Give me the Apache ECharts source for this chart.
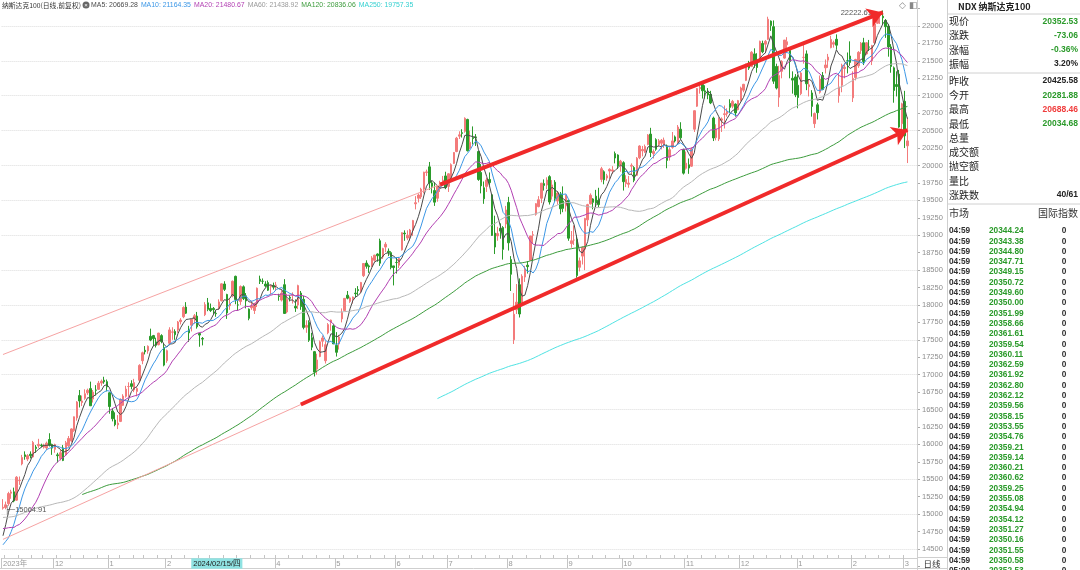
<!DOCTYPE html>
<html><head><meta charset="utf-8">
<script src="https://cdn.jsdelivr.net/npm/echarts@6/dist/echarts.min.js"></script>
<style>html,body{margin:0;padding:0;background:#fff;}#c{width:1080px;height:570px;}</style>
</head><body><div id="c"></div>
<script>
// ---------------- DATA ----------------
// trading days shown (category axis)
const monthDays = [
 ['2023/11',[3,6,7,8,9,10,13,14,15,16,17,20,21,22,24,27,28,29,30]],
 ['2023/12',[1,4,5,6,7,8,11,12,13,14,15,18,19,20,21,22,26,27,28,29]],
 ['2024/01',[2,3,4,5,8,9,10,11,12,16,17,18,19,22,23,24,25,26,29,30,31]],
 ['2024/02',[1,2,5,6,7,8,9,12,13,14,15,16,20,21,22,23,26,27,28,29]],
 ['2024/03',[1,4,5,6,7,8,11,12,13,14,15,18,19,20,21,22,25,26,27,28]],
 ['2024/04',[1,2,3,4,5,8,9,10,11,12,15,16,17,18,19,22,23,24,25,26,29,30]],
 ['2024/05',[1,2,3,6,7,8,9,10,13,14,15,16,17,20,21,22,23,24,28,29,30,31]],
 ['2024/06',[3,4,5,6,7,10,11,12,13,14,17,18,20,21,24,25,26,27,28]],
 ['2024/07',[1,2,3,5,8,9,10,11,12,15,16,17,18,19,22,23,24,25,26,29,30,31]],
 ['2024/08',[1,2,5,6,7,8,9,12,13,14,15,16,19,20,21,22,23,26,27,28,29,30]],
 ['2024/09',[3,4,5,6,9,10,11,12,13,16,17,18,19,20,23,24,25,26,27,30]],
 ['2024/10',[1,2,3,4,7,8,9,10,11,14,15,16,17,18,21,22,23,24,25,28,29,30,31]],
 ['2024/11',[1,4,5,6,7,8,11,12,13,14,15,18,19,20,21,22,25,26,27,29]],
 ['2024/12',[2,3,4,5,6,9,10,11,12,13,16,17,18,19,20,23,24,26,27,30,31]],
 ['2025/01',[2,3,6,7,8,10,13,14,15,16,17,21,22,23,24,27,28,29,30,31]],
 ['2025/02',[3,4,5,6,7,10,11,12,13,14,18,19,20,21,24,25,26,27,28]],
 ['2025/03',[3,4]]
];

// closes before the visible range (only feed the moving averages)
const historyCloses = [
 14940,14907,15179,
 15204,15238,15039,14944,14953,15044,15238,15466,15565,15699,15867,15842,15462,15277,15292,15450,15391,15393,15667,15757,
 15735,15383,15363,15274,15404,15258,15071,15083,14980,15205,15034,14866,14694,14694,14943,14894,15145,14811,14941,15052,15350,15462,15501,
 15491,15526,15376,15277,15290,15462,15292,15354,15474,15203,15221,15185,14966,14694,14701,14768,14546,14571,14695,14715,
 14838,14566,14789,14746,14977,15059,15116,15241,15186,14995,15159,15110,14958,14824,14598,14646,14790,14430,14109,14180,14336,14410,
 14665,14939
];

// daily candles: [open, close, low, high]
const candles = [
 // 2023/11
 [15085,15099,15064.91,15215],[15095,15133,15070,15180],[15150,15295,15120,15320],[15300,15319,15220,15350],[15320,15188,15170,15380],
 [15200,15530,15190,15545],[15480,15482,15420,15540],[15720,15812,15700,15850],[15850,15826,15780,15900],[15790,15839,15760,15860],
 [15860,15839,15800,15900],[15820,16027,15810,16050],[15960,15942,15880,15990],[15980,16001,15950,16080],[15990,15983,15960,16010],
 [15960,15983,15940,16010],[15950,16018,15920,16040],[16070,15987,15970,16160],[16000,15947,15850,16010],
 // 2023/12
 [15930,15997,15880,16010],[15850,15838,15740,15880],[15800,15880,15770,15920],[15950,15770,15760,15990],[15850,16023,15840,16050],
 [15980,16085,15960,16120],[16050,16222,16030,16230],[16200,16396,16180,16400],[16380,16608,16340,16620],[16700,16623,16530,16780],
 [16600,16623,16550,16700],[16660,16727,16640,16790],[16740,16777,16710,16800],[16800,16554,16550,16900],[16650,16750,16600,16780],
 [16780,16777,16700,16850],[16790,16878,16780,16910],[16880,16906,16840,16930],[16920,16898,16870,16970],[16900,16826,16760,16930],
 // 2024/01
 [16740,16543,16440,16750],[16480,16368,16330,16520],[16350,16283,16260,16460],[16280,16305,16220,16420],[16330,16645,16320,16660],
 [16560,16693,16550,16720],[16690,16793,16670,16840],[16830,16830,16680,16890],[16870,16832,16790,16920],[16780,16886,16750,16940],
 [16760,16801,16690,16820],[16920,17133,16890,17150],[17200,17314,17150,17330],[17350,17329,17290,17410],[17340,17407,17300,17420],
 [17550,17496,17480,17660],[17560,17516,17410,17570],[17470,17421,17390,17530],[17430,17596,17420,17600],[17560,17476,17450,17580],
 [17390,17137,17120,17450],
 // 2024/02
 [17200,17344,17170,17360],[17450,17642,17420,17680],[17610,17613,17500,17680],[17620,17573,17500,17650],[17640,17755,17600,17770],
 [17760,17783,17720,17810],[17830,17963,17810,17980],[17970,17882,17870,18040],[17640,17600,17470,17700],[17710,17792,17620,17800],
 [17800,17845,17730,17870],[17840,17686,17660,17900],[17590,17568,17400,17600],[17520,17510,17420,17540],[17860,18004,17840,18040],
 [18030,17937,17910,18100],[17950,17919,17900,18020],[17950,17932,17860,17970],[17880,17874,17830,17930],[17950,18043,17930,18080],
 // 2024/03
 [18060,18302,18050,18310],[18300,18224,18200,18340],[18150,17885,17800,18160],[17990,18018,17930,18090],[18130,18339,18110,18350],
 [18410,18077,18010,18420],[18000,17999,17920,18060],[18050,18264,18000,18280],[18260,18091,18070,18280],[18130,18057,17950,18170],
 [17940,17808,17780,17950],[17960,17985,17930,18060],[17920,18021,17870,18030],[18020,18240,17970,18250],[18370,18339,18300,18420],
 [18340,18339,18300,18380],[18300,18271,18250,18340],[18320,18211,18200,18350],[18260,18280,18150,18290],[18280,18255,18220,18320],
 // 2024/04
 [18280,18285,18200,18330],[18130,18122,18060,18160],[18070,18168,18050,18210],[18290,17878,17870,18370],[17900,18078,17880,18160],
 [18110,18096,18050,18140],[18140,18140,18020,18180],[17980,17956,17900,18080],[18000,18277,17940,18290],[18170,17976,17930,18200],
 [18080,17678,17650,18130],[17680,17707,17600,17780],[17750,17494,17470,17780],[17530,17394,17350,17600],[17330,17037,16974,17340],
 [17080,17211,17000,17300],[17260,17471,17250,17490],[17480,17526,17400,17560],[17200,17430,17160,17480],[17600,17718,17580,17740],
 [17750,17783,17630,17790],[17700,17441,17440,17730],
 // 2024/05
 [17420,17321,17260,17610],[17440,17541,17360,17570],[17800,17891,17750,17950],[17920,18094,17910,18100],[18140,18097,18080,18200],
 [18050,18101,18030,18120],[18090,18113,18020,18120],[18170,18161,18110,18240],[18220,18205,18140,18270],[18200,18322,18170,18330],
 [18420,18594,18400,18600],[18600,18554,18520,18640],[18560,18546,18460,18580],[18550,18674,18540,18700],[18640,18714,18620,18720],
 [18730,18705,18620,18740],[18920,18598,18560,18950],[18690,18809,18660,18820],[18830,18870,18760,18900],[18770,18752,18700,18810],
 [18750,18538,18510,18770],[18560,18536,18280,18560],
 // 2024/06
 [18610,18608,18450,18680],[18570,18667,18530,18690],[18790,19036,18780,19040],[19030,19020,18920,19070],[18960,19000,18930,19070],
 [18980,19074,18920,19090],[19070,19210,18990,19220],[19450,19466,19370,19560],[19530,19576,19470,19600],[19550,19659,19520,19680],
 [19660,19903,19600,19910],[19900,19908,19850,19940],[19980,19752,19650,20050],[19750,19701,19600,19780],[19640,19474,19420,19760],
 [19530,19700,19480,19710],[19670,19752,19620,19780],[19760,19789,19710,19850],[19850,19683,19660,19910],
 // 2024/07
 [19700,19880,19620,19890],[19820,20011,19800,20030],[20030,20186,20020,20190],[20200,20392,20190,20410],[20420,20439,20380,20490],
 [20470,20460,20400,20520],[20490,20676,20470,20690],[20660,20212,20200,20670],[20250,20332,20230,20500],[20400,20386,20300,20560],
 [20410,20401,20280,20450],[20200,19799,19780,20210],[19900,19707,19600,20020],[19680,19522,19450,19770],[19700,19791,19620,19820],
 [19800,19754,19710,19900],[19580,18997,18990,19590],[19030,18830,18730,19280],[18990,19023,18920,19120],[19100,19059,18950,19170],
 [19110,18797,18650,19130],[19160,19362,19100,19420],
 // 2024/08
 [19470,18891,18780,19550],[18650,18440,18200,18700],[17500,17867,17440,18170],[17930,18040,17870,18300],[18290,17870,17820,18380],
 [18030,18412,17990,18440],[18400,18513,18330,18560],[18570,18549,18450,18630],[18640,18989,18630,18990],[19000,19007,18880,19060],
 [19300,19452,19280,19460],[19410,19508,19400,19560],[19530,19746,19460,19750],[19740,19714,19640,19800],[19720,19791,19660,19830],
 [19840,19476,19440,19860],[19560,19721,19510,19790],[19760,19527,19480,19790],[19490,19605,19440,19630],[19590,19379,19300,19620],
 [19490,19385,19330,19700],[19420,19575,19340,19580],
 // 2024/09
 [19500,18957,18920,19510],[18880,18920,18820,19060],[18930,18930,18860,19140],[18940,18421,18390,19000],[18540,18632,18480,18680],
 [18700,18827,18580,18840],[18800,19239,18500,19250],[19220,19438,19130,19450],[19450,19574,19440,19600],[19520,19471,19370,19530],
 [19560,19463,19400,19650],[19500,19439,19400,19680],[19800,19953,19760,19980],[19910,19794,19730,19930],[19820,19852,19780,19880],
 [19920,19944,19810,19960],[19920,19936,19880,19990],[20170,20107,20030,20200],[20150,19992,19950,20160],[20010,20061,19910,20080],
 // 2024/10
 [20040,19767,19640,20060],[19740,19799,19690,19860],[19730,19748,19680,19850],[19990,20003,19870,20030],[19970,19787,19760,19990],
 [19860,20104,19850,20120],[20110,20279,20090,20290],[20210,20229,20130,20280],[20190,20272,20180,20300],[20300,20437,20290,20450],
 [20450,20186,20120,20540],[20170,20200,20100,20230],[20370,20232,20210,20390],[20300,20353,20270,20380],[20320,20361,20230,20380],
 [20290,20363,20250,20400],[20280,20073,19960,20300],[20120,20226,20070,20260],[20260,20352,20240,20480],[20410,20351,20330,20430],
 [20330,20551,20310,20580],[20520,20396,20380,20620],[20230,19890,19870,20240],
 // 2024/11
 [19960,20033,19940,20200],[20010,19963,19880,20100],[19990,20233,19980,20260],[20520,20785,20480,20790],[20850,21102,20840,21110],
 [21100,21118,21030,21150],[21160,21071,20960,21170],[21070,21050,20960,21150],[21050,21011,20950,21110],[21020,20897,20880,21070],
 [20680,20394,20350,20700],[20400,20520,20360,20590],[20380,20666,20350,20690],[20650,20668,20480,20690],[20730,20741,20530,20860],
 [20740,20776,20700,20820],[20890,20833,20750,20950],[20850,20919,20820,20940],[20880,20754,20700,20890],[20800,20930,20790,20940],
 // 2024/12
 [20930,21111,20920,21130],[21080,21164,21050,21170],[21220,21451,21210,21460],[21450,21396,21370,21500],[21420,21623,21410,21640],
 [21600,21474,21400,21680],[21500,21405,21330,21610],[21510,21780,21500,21790],[21750,21630,21610,21790],[21740,21780,21610,21800],
 [21810,22097,21800,22133],[22070,22006,21930,22080],[21990,21209,21170,22080],[21420,21110,21090,21460],[20980,21289,20840,21430],
 [21350,21492,21250,21510],[21540,21798,21530,21800],[21730,21774,21660,21840],[21650,21491,21250,21660],[21250,21224,21030,21350],
 [21270,21012,20980,21310],
 // 2025/01
 [21150,20975,20820,21300],[21030,21326,21010,21340],[21550,21550,21460,21760],[21600,21171,21080,21650],[21130,21157,20990,21240],
 [21040,20847,20700,21080],[20600,20744,20538,20760],[20870,20757,20660,20900],[21050,21238,21030,21290],[21290,21090,21080,21340],
 [21400,21441,21320,21520],[21510,21554,21400,21600],[21690,21808,21680,21860],[21740,21761,21690,21790],[21810,21725,21660,21880],
 [21000,21127,20900,21310],[21150,21437,21050,21460],[21390,21409,21250,21470],[21500,21499,21320,21620],[21570,21478,21430,21780],
 // 2025/02
 [20970,21246,20910,21350],[21260,21520,21220,21530],[21430,21622,21400,21640],[21650,21752,21600,21770],[21760,21491,21440,21830],
 [21600,21759,21590,21770],[21700,21697,21640,21800],[21500,21719,21440,21730],[21760,22030,21740,22040],[22040,22115,22030,22150],
 [22170,22175,22030,22200],[22140,22118,22020,22222.61],[22080,21990,21830,22100],[22000,21700,21560,22030],[21700,21420,21330,21740],
 [21400,21075,20900,21420],[21160,21132,20990,21350],[21310,20551,20540,21370],[20600,20884,20400,20900],
 // 2025/03
 [20920,20425.58,20250,21070],[20281.88,20352.53,20034.68,20688.46]
];

const maPeriods = [5, 10, 20, 60, 120, 250];
const maNames = ['MA5', 'MA10', 'MA20', 'MA60', 'MA120', 'MA250'];
const maLegendValues = ['20669.28', '21164.35', '21480.67', '21438.92', '20836.06', '19757.35'];
const yTicks = { min: 14250, max: 22250, step: 250, firstLabel: 14500, lastLabel: 22000 };

// hand-drawn trend lines: [startDate, startValue, endDate, endValue, kind]
const trendLines = [
 ['2023/11/03', 17289, '2024/06/26', 19726, 'thin'],
 ['2024/06/26', 19726, '2025/02/19', 22194, 'thick'],
 ['2023/11/03', 14638, '2024/04/12', 16572, 'thin'],
 ['2024/04/12', 16572, '2025/03/04', 20509, 'thick']
];
const crosshairDate = '2024/02/15';

// right panel
const panelTitle = 'NDX 纳斯达克100';
const quoteLabels = ['现价', '涨跌', '涨幅', '振幅'];
const quoteValues = ['20352.53', '-73.06', '-0.36%', '3.20%'];
const quoteTones = ['down', 'down', 'down', 'flat'];
const statLabels = ['昨收', '今开', '最高', '最低', '总量', '成交额', '抛空额', '量比', '涨跌数'];
const statValues = ['20425.58', '20281.88', '20688.46', '20034.68', '', '', '', '', '40/61'];
const statTones = ['flat', 'down', 'up', 'down', 'flat', 'flat', 'flat', 'flat', 'flat'];
const tickHeader = ['市场', '国际指数'];
const tickTimes = ['04:59','04:59','04:59','04:59','04:59','04:59','04:59','04:59','04:59','04:59','04:59','04:59','04:59','04:59','04:59','04:59','04:59',
 '04:59','04:59','04:59','04:59','04:59','04:59','04:59','04:59','04:59','04:59','04:59','04:59','04:59','04:59','04:59','04:59','05:00'];
const tickPrices = ['20344.24','20343.38','20344.80','20347.71','20349.15','20350.72','20349.60','20350.00','20351.99','20358.66','20361.61',
 '20359.54','20360.11','20362.59','20361.92','20362.80','20362.12','20359.56','20358.15','20353.55','20354.76','20359.21','20359.14',
 '20360.21','20360.62','20359.25','20355.08','20354.94','20354.12','20351.27','20350.16','20351.55','20350.58','20352.53'];
const tickVols = ['0','0','0','0','0','0','0','0','0','0','0','0','0','0','0','0','0','0','0','0','0','0','0','0','0','0','0','0','0','0','0','0','0','0'];

// ---------------- BUILD ----------------
const dates = [];
monthDays.forEach(([ym, days]) => days.forEach(d => dates.push(ym + '/' + String(d).padStart(2, '0'))));
if (dates.length !== candles.length) console.error('length mismatch', dates.length, candles.length);
const categories = dates.concat(['', ' ', '  ']);

const allCloses = historyCloses.concat(candles.map(c => c[1]));
function movingAverage(n) {
  const out = [];
  for (let i = historyCloses.length; i < allCloses.length; i++) {
    if (i + 1 < n) { out.push(null); continue; }
    let s = 0;
    for (let k = i - n + 1; k <= i; k++) s += allCloses[k];
    out.push(+(s / n).toFixed(2));
  }
  return out;
}

const toDate = s => new Date(s.replace(/\//g, '-') + 'T12:00:00');
const monthStart = new Set(), weekStart = new Set();
dates.forEach((d, i) => {
  if (i === 0 || d.slice(0, 7) !== dates[i - 1].slice(0, 7)) monthStart.add(i);
  if (i > 0) {
    const a = toDate(dates[i - 1]), b = toDate(d);
    if (b.getDay() <= a.getDay() || (b - a) > 5 * 86400000) weekStart.add(i);
  }
});

const UP = '#f37b7b', DOWN = '#2b9b2b';
const maColors = ['#4a4a4a', '#3c97e6', '#b23fb2', '#b8b8b8', '#3d9c3d', '#4fe3e3'];
const maTextColors = ['#4a4a4a', '#3c97e6', '#b23fb2', '#9a9a9a', '#3d9c3d', '#34d0d0'];
const GREEN = '#2a9a2a', RED = '#f03c3c';
const FONT = 'Arial, "Liberation Sans", "Noto Sans CJK SC", sans-serif';
const CJK = '"Noto Sans CJK SC", sans-serif';

// max / min markers
let hiIdx = 0, loIdx = 0;
candles.forEach((c, i) => { if (c[3] > candles[hiIdx][3]) hiIdx = i; if (c[2] < candles[loIdx][2]) loIdx = i; });

const markLineData = trendLines.map(([d1, v1, d2, v2, kind]) => {
  const thick = kind === 'thick';
  return [
    { coord: [d1, v1], symbol: 'none', lineStyle: { color: thick ? '#f02a2a' : '#f6a3a3', width: thick ? 4 : 1, type: 'solid' } },
    { coord: [d2, v2], symbol: thick ? 'arrow' : 'none', symbolSize: thick ? 15 : 0 }
  ];
});

const series = [{
  type: 'candlestick', name: 'k', data: candles, barWidth: 2,
  itemStyle: { color: UP, color0: DOWN, borderColor: UP, borderColor0: DOWN, borderWidth: 1 },
  markPoint: {
    silent: true, symbol: 'circle', symbolSize: 1, itemStyle: { color: 'rgba(0,0,0,0)' },
    data: [
      { coord: [dates[hiIdx], candles[hiIdx][3]], label: { show: true, position: 'left', distance: 3, offset: [0, 2], formatter: String(candles[hiIdx][3]) + ' ─', fontSize: 7.5, color: '#555', fontFamily: FONT } },
      { coord: [dates[loIdx], candles[loIdx][2]], label: { show: true, position: 'right', distance: 1, formatter: '├─' + candles[loIdx][2].toFixed(2), fontSize: 7.5, color: '#555', fontFamily: FONT } }
    ]
  },
  markLine: { silent: true, animation: false, z: 10, symbolSize: 15, label: { show: false }, emphasis: { disabled: true }, data: markLineData }
}];
maPeriods.forEach((p, k) => series.push({
  type: 'line', name: maNames[k], data: movingAverage(p), showSymbol: false, symbol: 'none', silent: true,
  lineStyle: { width: 1, color: maColors[k] }, z: 3
}));

// graphics: legend + panel
const G = [];
let gid = 0;
const txt = (x, y, text, o = {}) => G.push({ type: 'text', id: 'g' + (gid++), x, y, z: 100, silent: true,
  style: Object.assign({ text, fontSize: 10, fill: '#222', fontFamily: CJK, verticalAlign: 'middle', align: 'left' }, o) });
const ln = (x1, y1, x2, y2, c = '#d0d0d0') => G.push({ type: 'line', id: 'g' + (gid++), z: 100, silent: true,
  shape: { x1, y1, x2, y2 }, style: { stroke: c, lineWidth: 1 } });

// legend line at top-left
const rich = { t: { fontSize: 6.8, fill: '#333', fontFamily: CJK }, i: { fontSize: 6, fill: '#fff', backgroundColor: '#666', borderRadius: 4, width: 7, height: 7, align: 'center', lineHeight: 7 } };
let legendText = '{t|纳斯达克100(日线,前复权)} {i|×} ';
maNames.forEach((n, k) => { rich['m' + k] = { fontSize: 6.9, fill: maTextColors[k], fontFamily: FONT };
  legendText += '{m' + k + '|' + n + ': ' + maLegendValues[k] + '}  '; });
txt(2, 5, legendText, { rich, fontSize: 6.9 });

// top-right icons
txt(899, 6, '◇', { fontSize: 9, fill: '#888', fontFamily: '"DejaVu Sans"' });
txt(909, 6, '◧', { fontSize: 9, fill: '#888', fontFamily: '"DejaVu Sans"' });

// frame lines
ln(917.5, 0, 917.5, 570, '#cfcfcf');
ln(947.5, 0, 947.5, 570, '#cfcfcf');
ln(0, 568.5, 947, 568.5, '#cfcfcf');
ln(917, 557.5, 947, 557.5, '#cfcfcf');
txt(932, 564, '日线', { fontSize: 8.5, align: 'center', fill: '#333' });

// panel
const tone = t => t === 'down' ? GREEN : (t === 'up' ? RED : '#222');
txt(958, 7, panelTitle, { fontSize: 9, fontWeight: 'bold', fill: '#222' });
ln(948, 14, 1080, 14);
const qY = [21.5, 35.5, 50, 64];
quoteLabels.forEach((l, k) => {
  txt(949, qY[k], l, { fontSize: 10 });
  txt(1078, qY[k], quoteValues[k], { align: 'right', fontSize: 8.5, fontWeight: 'bold', fontFamily: FONT, fill: tone(quoteTones[k]) });
});
ln(948, 73, 1080, 73);
statLabels.forEach((l, k) => {
  const y = 81 + k * 14.25;
  txt(949, y, l, { fontSize: 10 });
  if (statValues[k]) txt(1078, y, statValues[k], { align: 'right', fontSize: 8.5, fontWeight: 'bold', fontFamily: FONT, fill: tone(statTones[k]) });
});
ln(948, 204, 1080, 204);
txt(949, 213, tickHeader[0], { fontSize: 10, fill: '#333' });
txt(1078, 213, tickHeader[1], { fontSize: 10, align: 'right', fill: '#333' });
tickTimes.forEach((t, k) => {
  const y = 231 + k * 10.3;
  txt(949, y, t, { fontSize: 8.3, fontWeight: 'bold', fontFamily: FONT, fill: '#333' });
  txt(989, y, tickPrices[k], { fontSize: 8.3, fontWeight: 'bold', fontFamily: FONT, fill: GREEN });
  txt(1064, y, tickVols[k], { fontSize: 8.3, fontWeight: 'bold', fontFamily: FONT, fill: '#333', align: 'center' });
});

// ---------------- CHART ----------------
const gridTop = 8.57, gridH = 557.86;
const chart = echarts.init(document.getElementById('c'));
chart.setOption({
  animation: false,
  backgroundColor: '#fff',
  grid: { left: 0, top: gridTop, width: 917, height: gridH },
  xAxis: [{
    type: 'category', data: categories, boundaryGap: true, offset: -8.4,
    axisLine: { show: true, lineStyle: { color: '#cfcfcf' } },
    axisTick: { show: true, length: 10, interval: i => monthStart.has(i), lineStyle: { color: '#c4c4c4' } },
    axisLabel: { show: true, interval: i => monthStart.has(i), align: 'left', margin: 2, fontSize: 7.5, color: '#999', fontFamily: FONT,
      formatter: (v, i) => i === 0 ? v.slice(0, 4) + '年' : String(parseInt(v.slice(5, 7), 10)) },
    splitLine: { show: false }
  }, {
    type: 'category', data: categories, boundaryGap: true, offset: -8.4, position: 'bottom', gridIndex: 0,
    axisLine: { show: false }, axisLabel: { show: false }, splitLine: { show: false },
    axisTick: { show: true, inside: true, length: 3, interval: i => weekStart.has(i), lineStyle: { color: '#c4c4c4' } }
  }],
  yAxis: {
    type: 'value', position: 'right', min: yTicks.min, max: yTicks.max, interval: yTicks.step,
    axisLine: { show: true, lineStyle: { color: '#cfcfcf' } },
    axisTick: { show: true, length: 3, lineStyle: { color: '#aaa' } },
    axisLabel: { fontSize: 7.5, color: '#8c8c8c', margin: 5, fontFamily: FONT,
      formatter: v => (v < yTicks.firstLabel || v > yTicks.lastLabel) ? '' : String(v) },
    splitLine: { show: true, lineStyle: { color: ['rgba(0,0,0,0)', '#dcdcdc'], type: 'dotted', width: 1 } }
  },
  series,
  graphic: G
});

// crosshair date label on the x axis
const px = chart.convertToPixel({ xAxisIndex: 0 }, crosshairDate);
const wd = '日一二三四五六'[toDate(crosshairDate).getDay()];
chart.setOption({ graphic: [{ type: 'text', id: 'xhair', x: px - 3, y: 563.5, z: 120, silent: true,
  style: { text: crosshairDate + '/' + wd, fontSize: 7.5, fill: '#222', fontFamily: FONT, verticalAlign: 'middle',
    backgroundColor: '#8fe2e2', padding: [2, 2, 1, 2] } }] });
</script></body></html>
